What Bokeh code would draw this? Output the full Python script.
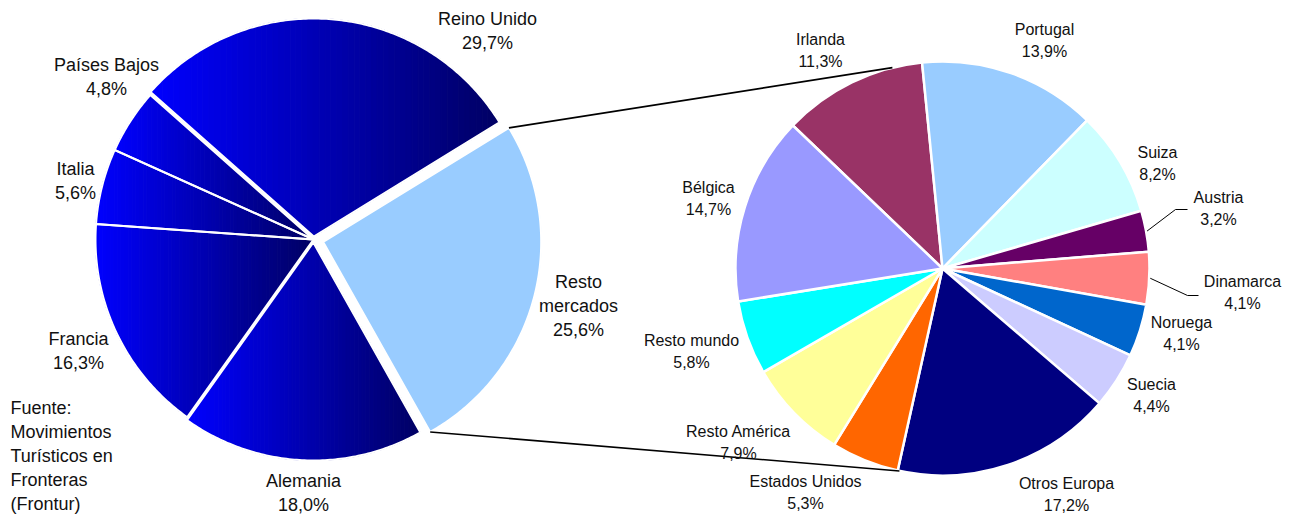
import numpy as np
from bokeh.plotting import figure
from bokeh.models import Range1d
from bokeh.embed import file_html
from bokeh.resources import INLINE
from bokeh.core.properties import value

# ---------------- data ----------------
main_labels = ["Resto\nmercados", "Reino Unido", "Países Bajos", "Italia", "Francia", "Alemania"]
main_values = [25.6, 29.7, 4.8, 5.6, 16.3, 18.0]

sub_labels = ["Irlanda", "Portugal", "Suiza", "Austria", "Dinamarca", "Noruega",
              "Suecia", "Otros Europa", "Estados Unidos", "Resto América",
              "Resto mundo", "Bélgica"]
sub_values = [11.3, 13.9, 8.2, 3.2, 4.1, 4.1, 4.4, 17.2, 5.3, 7.9, 5.8, 14.7]

source_lines = ["Fuente:", "Movimientos", "Turísticos en", "Fronteras", "(Frontur)"]

# ---------------- styles / layout ----------------
sub_colors = ["#993366", "#99CCFF", "#CCFFFF", "#660066", "#FF8080", "#0066CC",
              "#CCCCFF", "#000080", "#FF6600", "#FFFF99", "#00FFFF", "#9999FF"]
other_color = "#99CCFF"
grad_left = np.array([0, 0, 255])
grad_right = np.array([0, 0, 100])

W, H = 1296, 516
def Y(y):
    return H - y

C1 = (313.0, 239.0)   # picture px
R1 = 218.0
START1 = -60.6        # deg, anticlockwise
EXPLODE1 = [10, 3, 0, 0, 0, 3]

C2 = (942.0, 268.0)
R2 = 207.0
START2 = 136.3        # deg, clockwise

FONT = value("Liberation Sans")
TEXT_DY = -6

main_label_pos = [(578, 287), (487, 24), (106, 70), (75, 174), (78, 344), (303, 486)]
sub_label_pos = [(820, 45), (1044, 35), (1157, 158), (1218, 203), (1242, 287),
                 (1181, 328), (1151, 390), (1066, 489), (805, 487), (738, 437),
                 (691, 346), (708, 193)]
leader_elbows = {3: [(1175, 209), (1187, 209)], 4: [(1187, 295), (1198, 295)]}
CONN_TOP, CONN_BOT = 104.0, -102.0

def pct(v):
    return ("%.1f" % v).replace(".", ",") + "%"

p = figure(width=W, height=H, x_range=Range1d(0, W), y_range=Range1d(0, H),
           x_axis_type=None, y_axis_type=None, toolbar_location=None,
           output_backend="svg", min_border=0, outline_line_color=None,
           background_fill_color="white")

# ---------------- main (left) pie with gradient ----------------
def clip_half(poly, x0, keep_greater):
    out = []
    n = len(poly)
    for i in range(n):
        P = poly[i]; Q = poly[(i + 1) % n]
        pin = P[0] >= x0 if keep_greater else P[0] <= x0
        qin = Q[0] >= x0 if keep_greater else Q[0] <= x0
        if pin:
            out.append(P)
        if pin != qin:
            t = (x0 - P[0]) / (Q[0] - P[0])
            out.append((x0, P[1] + t * (Q[1] - P[1])))
    return out

tot1 = sum(main_values)
a = START1
main_geo = []
for i, v in enumerate(main_values):
    span = v / tot1 * 360.0
    a0, a1 = a, a + span
    mid = np.radians((a0 + a1) / 2)
    cx = C1[0] + EXPLODE1[i] * np.cos(mid)
    cy = Y(C1[1]) + EXPLODE1[i] * np.sin(mid)
    n = max(12, int(span * 1.5))
    ang = np.radians(np.linspace(a0, a1, n))
    poly = [(cx, cy)] + [(cx + R1 * np.cos(t), cy + R1 * np.sin(t)) for t in ang]
    main_geo.append((cx, cy, a0, a1, poly))
    a = a1

for i, (cx, cy, a0, a1, poly) in enumerate(main_geo):
    if i == 0:
        p.patch([q[0] for q in poly], [q[1] for q in poly], fill_color=other_color,
                line_color=other_color, line_width=0.5)
        continue
    xs_all = [q[0] for q in poly]
    xmin, xmax = min(xs_all), max(xs_all)
    N = 60
    edges = np.linspace(xmin, xmax, N + 1)
    xs, ys, cols = [], [], []
    for k in range(N):
        part = clip_half(poly, edges[k], True)
        part = clip_half(part, edges[k + 1], False) if part else []
        if len(part) < 3:
            continue
        f = (k + 0.5) / N
        c = (grad_left * (1 - f) + grad_right * f).astype(int)
        cols.append("#%02x%02x%02x" % tuple(c))
        xs.append([q[0] for q in part]); ys.append([q[1] for q in part])
    p.patches(xs, ys, fill_color=cols, line_color=cols, line_width=1)

p.patches([[q[0] for q in g[4]] for g in main_geo], [[q[1] for q in g[4]] for g in main_geo],
          fill_alpha=0, line_color="white", line_width=2, line_join="miter")

# ---------------- sub (right) pie ----------------
tot2 = sum(sub_values)
starts, ends, mids = [], [], []
a = START2
for v in sub_values:
    span = v / tot2 * 360.0
    ends.append(np.radians(a))          # anticlockwise end (larger angle)
    starts.append(np.radians(a - span))
    mids.append(np.radians(a - span / 2))
    a -= span
p.wedge(x=[C2[0]] * len(sub_values), y=[Y(C2[1])] * len(sub_values), radius=R2,
        start_angle=starts, end_angle=ends, fill_color=sub_colors,
        line_color="white", line_width=2.5)

# ---------------- connector lines ----------------
cx, cy, a0, a1, _ = main_geo[0]
top_l = (cx + R1 * np.cos(np.radians(a1)), cy + R1 * np.sin(np.radians(a1)))
bot_l = (cx + R1 * np.cos(np.radians(a0)), cy + R1 * np.sin(np.radians(a0)))
top_r = (C2[0] + R2 * np.cos(np.radians(CONN_TOP)), Y(C2[1]) + R2 * np.sin(np.radians(CONN_TOP)))
bot_r = (C2[0] + R2 * np.cos(np.radians(CONN_BOT)), Y(C2[1]) + R2 * np.sin(np.radians(CONN_BOT)))
p.multi_line([[top_l[0], top_r[0]], [bot_l[0], bot_r[0]]],
             [[top_l[1], top_r[1]], [bot_l[1], bot_r[1]]], line_color="black", line_width=1.6)

# ---------------- leader lines ----------------
for i, pts in leader_elbows.items():
    sx = C2[0] + R2 * np.cos(mids[i]) + 1
    sy = Y(C2[1]) + R2 * np.sin(mids[i])
    xs = [sx] + [q[0] for q in pts]
    ys = [sy] + [Y(q[1]) for q in pts]
    p.line(xs, ys, line_color="black", line_width=1)

# ---------------- labels ----------------
def add_labels(labels, values, positions, size, spacing):
    tx, ty, tt = [], [], []
    for lab, v, (x, y) in zip(labels, values, positions):
        lines = lab.split("\n") + [pct(v)]
        for j, s in enumerate(lines):
            tx.append(x); ty.append(Y(y + TEXT_DY + j * spacing)); tt.append(s)
    p.text(tx, ty, text=tt, text_align="center", text_baseline="alphabetic",
           text_font=FONT, text_font_size=size, text_color="#111111")

add_labels(main_labels, main_values, main_label_pos, "18px", 24)
add_labels(sub_labels, sub_values, sub_label_pos, "16px", 22)

p.text([10] * len(source_lines), [Y(413 + TEXT_DY + 24 * j) for j in range(len(source_lines))],
       text=source_lines, text_align="left", text_baseline="alphabetic",
       text_font=FONT, text_font_size="18px", text_color="#111111")

open("out.html", "w").write(file_html(p, INLINE))
